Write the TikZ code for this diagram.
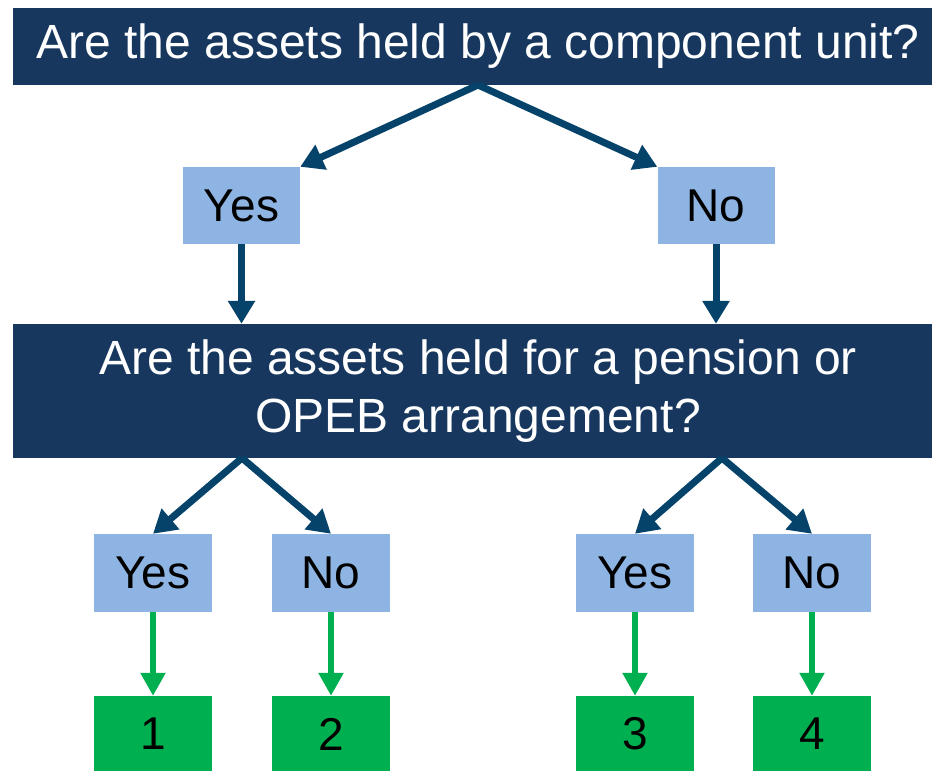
\documentclass[tikz,border=0pt]{standalone}
\usepackage{fontspec}
\setmainfont{Liberation Sans}
\usetikzlibrary{arrows.meta,positioning}

\definecolor{navy}{HTML}{17375E}
\definecolor{arrowblue}{HTML}{06436B}
\definecolor{lightblue}{HTML}{8EB4E3}
\definecolor{outgreen}{HTML}{00B050}

\tikzset{
  question/.style={fill=navy,text=white,inner sep=0pt,minimum width=930pt,align=center},
  answer/.style={fill=lightblue,inner sep=0pt,minimum width=118pt,minimum height=78pt},
  outcome/.style={fill=outgreen,inner sep=0pt,minimum width=118pt,minimum height=76pt},
  flow/.style={draw=arrowblue,line width=7pt,-{Triangle[width=26pt,length=23pt]}},
  result/.style={draw=outgreen,line width=5.5pt,-{Triangle[width=24pt,length=23pt]}}
}

\begin{document}
\begin{tikzpicture}[x=1pt,y=-1pt,font=\fontsize{46}{58}\selectfont]
    \useasboundingbox (0,0) rectangle (932,771);
    \clip (0,0) rectangle (932,771);

    % questions
    \node (Q1) [question,minimum height=77pt,font=\fontsize{48}{58}\selectfont] at (478,46) {Are the assets held by a component unit?};
    \node (Q2) [question,minimum height=134pt,font=\fontsize{48}{58}\selectfont] at (478,391) {Are the assets held for a pension or\\OPEB arrangement?};

    \coordinate (s0) at (478,85);
    \coordinate (s1) at (242,458);
    \coordinate (s2) at (722,458);

    % answers
    \node (Y1) [answer,minimum width=117pt,minimum height=77pt] at (241.5,205.5) {Yes};
    \node (N1) [answer,minimum width=117pt,minimum height=77pt] at (716,205.5) {No};

    \node (Y2) [answer] at (153,573) {Yes};
    \node (N2) [answer] at (331,573) {No};
    \node (Y3) [answer] at (635,573) {Yes};
    \node (N3) [answer] at (812,573) {No};

    % outcomes
    \node (R1) [outcome] at (153,734) {1};
    \node (R2) [outcome] at (331,734) {2};
    \node (R3) [outcome] at (635,734) {3};
    \node (R4) [outcome] at (812,734) {4};

    \draw[flow] (s0) -- (Y1.north east);
    \draw[flow] (s0) -- (N1.north west);
    \draw[flow] (Y1.south) -- (Y1.south |- Q2.north);
    \draw[flow] (N1.south) -- (N1.south |- Q2.north);

    \draw[flow] (s1) -- (Y2.north);
    \draw[flow] (s1) -- (N2.north);
    \draw[flow] (s2) -- (Y3.north);
    \draw[flow] (s2) -- (N3.north);

    \draw[result] (Y2.south) -- (R1.north);
    \draw[result] (N2.south) -- (R2.north);
    \draw[result] (Y3.south) -- (R3.north);
    \draw[result] (N3.south) -- (R4.north);

\end{tikzpicture}
\end{document}
